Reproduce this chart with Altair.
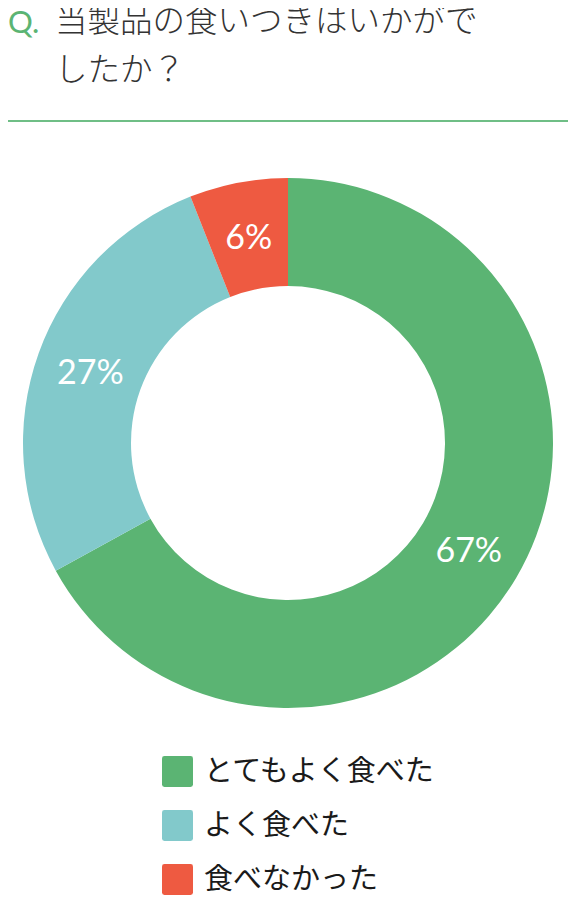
import altair as alt
import pandas as pd

categories = ["とてもよく食べた", "よく食べた", "食べなかった"]
values = [67, 27, 6]
labels = ["67%", "27%", "6%"]
colors = ["#5BB473", "#82C9CB", "#EE5A41"]
title_text = "当製品の食いつきはいかがで\nしたか？"
title_mark = "Q."

df = pd.DataFrame({"category": categories, "value": values, "label": labels, "order": [0, 1, 2]})

CX, CY = 280, 435
W, H = 560, 887

ROUNDED = ("M-0.84,-1H0.84Q1,-1 1,-0.84V0.84Q1,1 0.84,1H-0.84Q-1,1 -1,0.84"
           "V-0.84Q-1,-1 -0.84,-1Z")

color = alt.Color(
    "category:N",
    scale=alt.Scale(domain=categories, range=colors),
    sort=categories,
    legend=alt.Legend(
        title=None, orient="none", legendX=154, legendY=748, direction="vertical",
        symbolType=ROUNDED, symbolSize=961, symbolStrokeWidth=0, symbolOpacity=1,
        labelFont="Noto Sans CJK JP", labelFontSize=29, labelColor="#1a1a1a",
        labelOffset=11, rowPadding=23, padding=0, labelLimit=400,
    ),
)

base = alt.Chart(df).encode(
    theta=alt.Theta("value:Q", stack=True),
    order=alt.Order("order:Q"),
)

arcs = base.mark_arc(outerRadius=265, innerRadius=157, strokeWidth=0).encode(
    color=color, x=alt.value(CX), y=alt.value(CY)
)

pct = base.mark_text(
    radius=210, fontSize=34, font="Lato", color="white",
    baseline="middle", align="center", dy=2,
).encode(text="label:N", detail="category:N", x=alt.value(CX), y=alt.value(CY))

rule = alt.Chart(pd.DataFrame({"a": [0]})).mark_rule(color="#6FBE86", strokeWidth=2).encode(
    x=alt.value(0), x2=alt.value(W), y=alt.value(113)
)

qmark = alt.Chart(pd.DataFrame({"t": [title_mark]})).mark_text(
    font="Lato", fontSize=31, color="#5BB473", align="left", baseline="alphabetic"
).encode(text="t:N", x=alt.value(0), y=alt.value(25))

title = alt.Chart(pd.DataFrame({"t": [title_text]})).mark_text(
    font="Noto Sans CJK JP", fontSize=32.5, fontWeight=300, color="#333333",
    align="left", baseline="alphabetic", lineBreak="\n", lineHeight=49,
).encode(text="t:N", x=alt.value(47), y=alt.value(24))

chart = alt.layer(rule, qmark, title, arcs, pct).properties(
    width=W, height=H, autosize="none", padding=0
).configure_view(stroke=None)

chart.save("out.html", embed_options={"renderer": "svg", "actions": False})
